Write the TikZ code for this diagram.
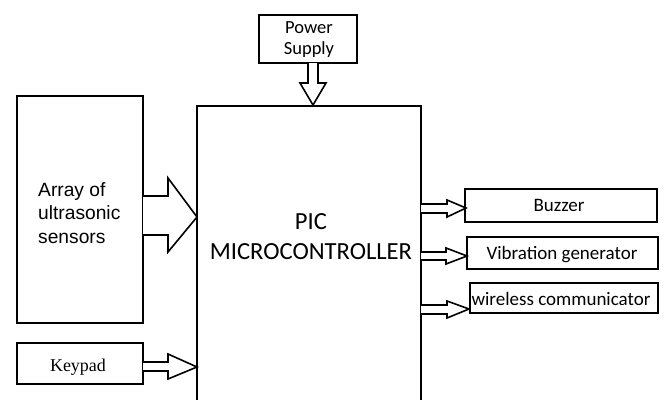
\documentclass[tikz,border=0pt]{standalone}
\usepackage{fontspec}
\setmainfont{Carlito}
\newfontfamily\arialf{Liberation Sans}
\newfontfamily\timesf{Liberation Serif}
\begin{document}
\begin{tikzpicture}[x=1pt,y=-1pt,
  box/.style={draw, line width=1.8pt, inner sep=0pt, outer sep=0pt},
  lbl/.style={inner sep=0pt, font=\fontsize{19}{22}\selectfont},
  barrow/.style={draw, line width=1.6pt, fill=white, line join=miter}]
\clip (0,0) rectangle (664,399);
\fill[white] (0,0) rectangle (664,399);
% boxes
\node[box, minimum width=98pt, minimum height=48pt] (power) at (308,39) {};
\node[align=center, inner sep=0pt, font=\fontsize{18.5}{21}\selectfont] (powertext) at (309,40) {Power\\Supply};
\node[box, minimum width=224pt, minimum height=320pt] (pic) at (309,266) {};
\node[align=center, inner sep=0pt, font=\fontsize{24.6}{30}\selectfont] (pictext) at (311,237) {PIC\\MICROCONTROLLER};
\node[box, minimum width=126pt, minimum height=227pt] (array) at (80,209.5) {};
\node[align=left, anchor=west, inner sep=0pt, font=\arialf\fontsize{19.2}{23.5}\selectfont] (arraytext) at (38,213) {Array of\\ultrasonic\\sensors};
\node[box, minimum width=126pt, minimum height=41pt] (keypad) at (80,363.5) {};
\node[inner sep=0pt, font=\timesf\fontsize{18}{21}\selectfont] (keytext) at (78,367) {Keypad};
\node[box, minimum width=192pt, minimum height=33pt] (buzzer) at (561,205.5) {};
\node[lbl] (buzztext) at (559,205) {Buzzer};
\node[box, minimum width=191pt, minimum height=32pt] (vib) at (562.5,253) {};
\node[lbl] (vibtext) at (562,254.5) {Vibration generator};
\node[box, minimum width=188pt, minimum height=30pt] (wire) at (564,298) {};
\node[lbl] (wiretext) at (561,299) {wireless communicator};
% connector end points
\coordinate (ptip) at (313,105);
\coordinate (atip) at (197,217);
\coordinate (ktip) at (197,367);
\coordinate (btip) at (466,208);
\coordinate (vtip) at (467,256);
\coordinate (wtip) at (469,309);
% power arrow
\draw[barrow] (power.south -| 308,0) -- (308,83) -- (300,83) -- (ptip) -- (326,83) -- (318,83) -- (power.south -| 318,0);
% array arrow
\draw[barrow] (array.east |- 0,196) -- (168,196) -- (168,178) -- (atip) -- (168,252) -- (168,235) -- (array.east |- 0,235);
% keypad arrow
\draw[barrow] (keypad.east |- 0,362) -- (168,362) -- (168,354) -- (ktip) -- (168,379) -- (168,371) -- (keypad.east |- 0,371);
% output arrows
\draw[barrow] (pic.east |- 0,204) -- (447,204) -- (447,200) -- (btip) -- (447,217) -- (447,213) -- (pic.east |- 0,213);
\draw[barrow] (pic.east |- 0,252) -- (446,252) -- (446,248) -- (vtip) -- (446,264) -- (446,260) -- (pic.east |- 0,260);
\draw[barrow] (pic.east |- 0,305) -- (447,305) -- (447,301) -- (wtip) -- (447,318) -- (447,314) -- (pic.east |- 0,314);
\end{tikzpicture}
\end{document}
